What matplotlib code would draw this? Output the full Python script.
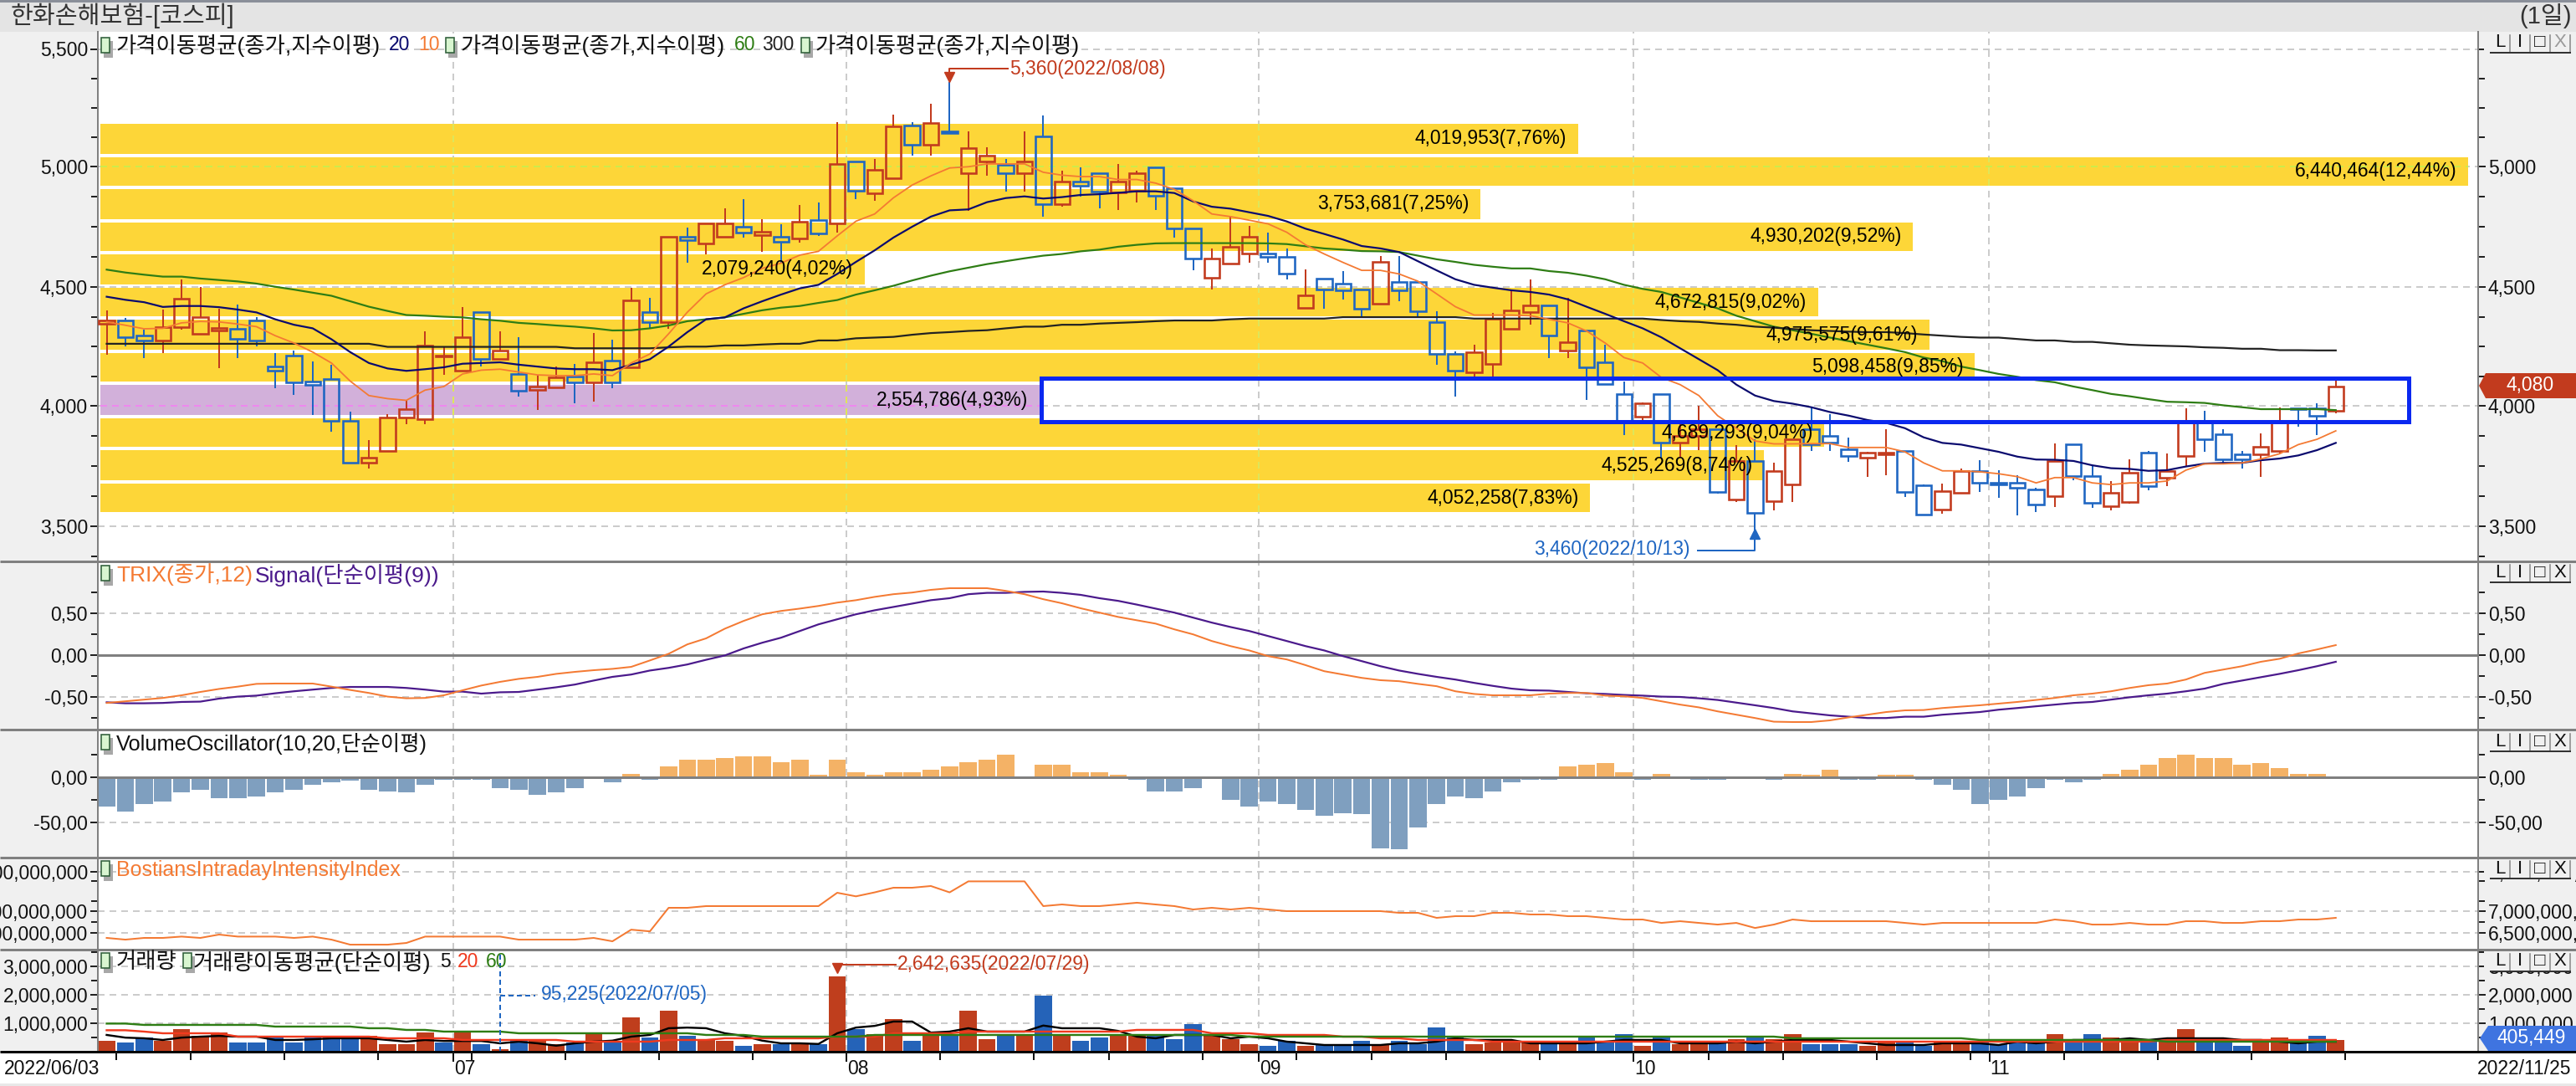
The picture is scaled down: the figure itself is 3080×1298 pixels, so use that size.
import numpy as np
import matplotlib
matplotlib.use('Agg')
import matplotlib.pyplot as plt
from matplotlib.patches import Rectangle, Polygon
from matplotlib.ticker import FixedLocator, FixedFormatter, NullFormatter
import logging
logging.getLogger('matplotlib.font_manager').setLevel(logging.ERROR)

plt.rcParams['font.family'] = ['Liberation Sans', 'Noto Sans CJK KR', 'DejaVu Sans']
plt.rcParams['axes.unicode_minus'] = False

# ---------- data ----------
open_ = [4345,4360,4297,4274,4330,4303,4316,4324,4360,4164,4211,4101,4113,3937,3764,3812,3950,3943,4209,4147,
         4396,4196,4134,4067,4076,4125,4098,4189,4161,4394,4352,4709,4681,4708,4750,4715,4709,4702,4779,4764,
         5021,4888,4951,5173,5093,5151,4971,5020,5008,4971,5128,4843,4937,4972,4894,4898,4995,4911,4744,4539,
         4596,4640,4640,4625,4413,4535,4515,4489,4428,4521,4521,4353,4217,4141,4176,4323,4394,4424,4232,4318,
         4183,4049,3956,4049,3846,3876,3904,3610,3771,3604,3673,3902,3876,3819,3783,3798,3812,3669,3568,3639,
         3729,3682,3681,3652,3624,3842,3708,3583,3602,3806,3700,3791,3930,3881,3798,3798,3812,3990,3991,3979]
high  = [4400,4370,4320,4405,4532,4501,4407,4425,4375,4222,4234,4188,4173,3974,3857,3967,4023,4313,4245,4417,
         4396,4313,4290,4127,4165,4177,4306,4277,4498,4453,4709,4745,4765,4828,4863,4780,4759,4842,4851,5187,
         5021,5032,5222,5187,5267,5360,5151,5083,5032,5151,5218,4983,4997,4972,5011,4983,4995,4911,4744,4661,
         4792,4753,4726,4661,4574,4535,4565,4489,4628,4628,4521,4397,4229,4257,4391,4491,4532,4424,4453,4318,
         4257,4101,4015,4049,3929,4000,3904,3838,3861,3764,3861,3997,3967,3869,3808,3904,3813,3673,3676,3741,
         3774,3731,3711,3658,3843,3842,3749,3688,3779,3812,3801,3989,3980,3904,3812,3884,3994,3989,4009,4105]
low   = [4215,4250,4200,4222,4321,4303,4159,4202,4250,4073,4047,3962,3892,3764,3741,3812,3922,3922,4131,4147,
         4165,4196,4040,3982,4076,4012,4017,4073,4161,4323,4323,4602,4637,4708,4706,4645,4600,4685,4712,4727,
         4863,4859,4951,5048,5048,5142,4816,4961,4897,4897,4790,4834,4875,4826,4820,4849,4820,4706,4568,4491,
         4596,4602,4602,4532,4407,4407,4447,4372,4428,4440,4372,4173,4040,4104,4119,4323,4341,4200,4200,4026,
         4092,3880,3937,3786,3783,3816,3635,3602,3460,3565,3600,3812,3812,3768,3706,3711,3620,3545,3553,3639,
         3642,3617,3545,3560,3580,3691,3575,3566,3594,3651,3666,3748,3809,3759,3741,3706,3801,3914,3880,3970]
close = [4360,4287,4274,4332,4451,4373,4326,4281,4274,4147,4098,4089,3937,3764,3785,3952,3986,4254,4212,4289,
         4196,4232,4063,4080,4119,4098,4183,4098,4443,4353,4709,4694,4765,4765,4727,4730,4687,4771,4723,5009,
         4900,4986,5171,5093,5185,5142,5080,5045,4971,5020,4843,4937,4921,4895,4937,4972,4878,4742,4617,4619,
         4667,4709,4625,4556,4465,4491,4486,4408,4605,4486,4399,4217,4147,4226,4367,4400,4422,4295,4269,4161,
         4092,3929,4009,3846,3876,3902,3643,3771,3556,3729,3861,3839,3846,3791,3806,3807,3643,3548,3646,3729,
         3679,3673,3658,3590,3771,3708,3596,3639,3721,3666,3729,3929,3861,3777,3777,3831,3929,3985,3958,4080]

ma20 = [4459,4446,4436,4416,4420,4420,4415,4405,4393,4364,4341,4326,4280,4226,4180,4157,4147,4154,4162,4177,
        4180,4183,4173,4165,4157,4154,4154,4150,4173,4196,4249,4310,4364,4372,4410,4440,4468,4494,4509,4554,
        4604,4652,4705,4750,4792,4818,4822,4852,4869,4876,4867,4873,4882,4885,4891,4897,4897,4890,4855,4833,
        4825,4810,4795,4772,4742,4720,4697,4670,4660,4645,4607,4569,4532,4509,4497,4486,4479,4468,4448,4417,
        4387,4356,4326,4288,4242,4196,4150,4089,4043,4020,4009,3994,3974,3959,3941,3929,3907,3869,3846,3839,
        3824,3809,3789,3777,3776,3771,3753,3741,3738,3730,3733,3748,3760,3763,3763,3774,3781,3794,3816,3846]
ma10 = [4353,4339,4324,4326,4349,4355,4353,4344,4333,4295,4264,4226,4180,4104,4043,4030,4023,4066,4081,4134,
        4150,4154,4142,4130,4127,4127,4134,4127,4180,4218,4303,4394,4471,4509,4539,4577,4599,4632,4648,4712,
        4773,4803,4870,4923,4961,4994,4999,5011,5011,5011,4976,4964,4958,4958,4946,4946,4931,4905,4858,4803,
        4792,4777,4762,4727,4675,4637,4602,4569,4569,4554,4524,4471,4417,4382,4382,4382,4379,4364,4349,4315,
        4264,4203,4180,4119,4089,4043,3959,3907,3854,3842,3842,3843,3843,3827,3827,3827,3809,3763,3730,3730,
        3726,3718,3706,3680,3702,3702,3680,3673,3680,3680,3688,3733,3759,3759,3763,3779,3801,3839,3861,3896]
ma60 = [4572,4560,4551,4543,4543,4535,4529,4523,4514,4501,4489,4476,4463,4440,4417,4399,4382,4379,4375,4372,
        4364,4358,4349,4344,4338,4333,4326,4317,4318,4326,4338,4356,4364,4372,4387,4402,4413,4420,4433,4445,
        4468,4486,4505,4527,4547,4565,4580,4595,4607,4619,4630,4637,4648,4655,4667,4675,4681,4682,4682,4682,
        4682,4682,4681,4678,4669,4660,4655,4649,4648,4645,4630,4615,4604,4592,4584,4577,4577,4566,4559,4547,
        4532,4509,4492,4479,4456,4433,4410,4379,4356,4333,4318,4303,4287,4272,4257,4242,4226,4203,4188,4165,
        4150,4134,4122,4108,4099,4081,4066,4050,4040,4028,4017,4015,4012,4002,3994,3986,3986,3986,3986,3982]
ma300 = [4261,4261,4261,4261,4261,4261,4261,4261,4261,4261,4261,4261,4261,4261,4261,4248,4248,4248,4248,4248,
         4248,4248,4248,4248,4248,4242,4242,4242,4242,4242,4246,4249,4249,4254,4254,4258,4261,4261,4275,4275,
         4284,4287,4290,4299,4306,4310,4315,4318,4326,4333,4333,4341,4341,4346,4349,4352,4356,4359,4359,4359,
         4364,4367,4367,4367,4367,4367,4373,4373,4373,4373,4373,4373,4373,4367,4367,4367,4367,4367,4367,4367,
         4367,4367,4367,4361,4356,4353,4346,4341,4333,4329,4323,4318,4315,4312,4310,4310,4306,4300,4295,4290,
         4287,4287,4281,4275,4275,4269,4269,4263,4257,4254,4252,4250,4246,4244,4240,4240,4234,4234,4233,4233]

band_top = [5182,5039,4907,4768,4636,4497,4362,4222,4087,3947,3815,3676]
band_bot = [5054,4920,4782,4649,4511,4376,4235,4102,3961,3830,3690,3559]
band_vol = [4019953,6440464,3753681,4930202,2079240,4672815,4975575,5098458,2554786,4689293,4525269,4052258]
band_pct = ['7,76%','12,44%','7,25%','9,52%','4,02%','9,02%','9,61%','9,85%','4,93%','9,04%','8,74%','7,83%']

trix = [-.574,-.554,-.534,-.514,-.482,-.442,-.406,-.378,-.345,-.341,-.341,-.341,-.378,-.418,-.454,-.498,-.518,-.514,-.482,-.422,
        -.365,-.321,-.285,-.261,-.225,-.201,-.181,-.165,-.141,-.064,.016,.129,.201,.317,.41,.49,.53,.558,.59,.63,.659,
        .699,.731,.751,.783,.803,.803,.803,.771,.731,.671,.622,.562,.51,.458,.418,.378,.309,.249,.169,.108,.056,-.012,-.052,-.12,-.193,
        -.233,-.273,-.301,-.313,-.345,-.373,-.434,-.466,-.482,-.482,-.482,-.462,-.454,-.454,-.486,-.494,-.514,-.554,-.594,-.627,-.675,
        -.715,-.755,-.799,-.803,-.803,-.783,-.747,-.715,-.683,-.663,-.659,-.635,-.618,-.602,-.582,-.562,-.538,-.514,-.482,-.462,-.434,
        -.394,-.361,-.341,-.293,-.213,-.173,-.133,-.08,-.044,.02,.068,.12]
signal = [-.566,-.578,-.578,-.574,-.562,-.558,-.522,-.498,-.486,-.458,-.434,-.414,-.394,-.382,-.382,-.382,-.394,-.414,-.438,-.438,
          -.462,-.446,-.442,-.414,-.386,-.353,-.305,-.261,-.233,-.185,-.153,-.112,-.056,-.004,.08,.149,.209,.289,.369,.43,.49,
          .538,.578,.618,.659,.683,.731,.747,.747,.759,.763,.747,.723,.683,.651,.606,.558,.51,.45,.39,.337,.289,.229,.169,.108,.056,
          -.012,-.072,-.133,-.185,-.225,-.261,-.293,-.333,-.369,-.402,-.422,-.426,-.442,-.458,-.466,-.478,-.486,-.498,-.502,-.518,-.538,
          -.57,-.602,-.635,-.675,-.699,-.723,-.739,-.755,-.755,-.739,-.739,-.715,-.699,-.683,-.655,-.635,-.614,-.594,-.574,-.562,-.534,
          -.506,-.482,-.462,-.434,-.402,-.345,-.305,-.265,-.225,-.181,-.133,-.08]
vol_osc = [-32,-38,-30,-27,-17,-14,-23,-23,-21,-17,-14,-8,-6,-4,-14,-16,-17,-8,-3,-3,-3,-12,-14,-19,-17,-12,0,-6,4,-3,
           12,19,19,21,23,23,17,19,3,19,6,3,6,6,8,12,17,19,25,0,14,14,6,6,3,-3,-16,-16,-12,0,
           -25,-32,-27,-30,-36,-43,-40,-41,-79,-80,-56,-30,-21,-23,-16,-6,-3,-3,12,14,16,6,-3,4,0,-3,-3,0,0,-3,
           4,3,8,-3,-3,3,3,-3,-8,-14,-30,-25,-21,-12,-3,-6,-3,4,8,14,21,25,21,21,14,16,10,4,4,0]
bii = [6390,6353,6390,6390,6419,6390,6463,6419,6419,6419,6390,6419,6353,6245,6245,6245,6281,6419,6419,6419,
       6419,6419,6353,6353,6353,6353,6390,6317,6572,6534,7080,7080,7121,7121,7121,7121,7121,7121,7121,7452,7362,
       7462,7581,7581,7625,7462,7747,7747,7747,7747,7121,7161,7121,7121,7161,7203,7161,7121,7040,7080,7040,7080,7040,
       7000,7000,7000,7000,7000,7000,6960,6960,6842,6881,6881,6960,6960,6921,6921,6881,6881,6842,6803,6803,6725,6764,6725,6687,
       6725,6610,6687,6803,6764,6764,6764,6764,6764,6725,6687,6725,6725,6725,6725,6725,6725,6803,6764,6687,6687,6725,6687,
       6687,6764,6764,6725,6725,6764,6764,6803,6803,6842]
volume = [376,318,494,376,788,553,671,318,318,494,318,494,494,494,553,259,259,671,318,671,259,95.225,376,376,259,318,612,376,1200,494,
          1435,553,435,376,200,259,259,259,259,2642.635,788,612,1141,376,612,612,1435,435,553,553,1965,612,376,494,612,553,612,435,965,553,
          435,259,200,376,200,259,259,376,259,376,259,847,553,259,318,376,318,318,318,494,318,612,200,494,259,259,318,435,494,435,
          612,259,259,259,200,318,318,200,318,318,376,259,376,318,612,376,612,494,435,376,376,788,376,435,200,318,494,318,553,405.449]
vol_ma5 = [588,494,471,412,494,529,553,529,529,412,412,435,471,471,471,412,353,412,376,376,376,294,353,294,212,294,353,388,529,588,824,847,824,647,553,388,294,294,271,647,847,
           906,1059,1059,671,706,824,706,706,706,918,824,824,824,729,529,471,588,588,588,471,529,471,353,294,235,235,235,235,294,294,353,471,412,412,412,294,294,294,294,353,412,412,412,294,294,294,
           353,294,353,412,412,412,353,294,235,235,235,294,294,294,235,353,294,353,412,412,412,471,412,471,471,471,471,412,412,353,294,353,353]
vol_ma20 = ([753,753,706]+[647]*4+[529]*8+[471]*4+[412]*6+[353]*5+[412]*3+[471]*6+[529]*3
            +[647]*4+[706]*9+[765]*4+[647]*3+[588]*4+[529]*2+[471]*2+[412]*4+[353]*36+[412]*10)
vol_ma60 = ([988]*2+[941]*7+[882]*5+[824]*2+[765]*2+[706]*4+[647]*10+[588]*3+[529]*6
            +[588]*20+[529]*29+[471]*10+[412]*10+[353]*10)

month_labels = ['07','08','09','10','11']
month_pos = [18.5,39.5,61.5,81.5,100.5]
week_pos = [.5,4.5,9.5,14.5,19.5,24.5,29.5,34.5,44.5,49.5,53.5,58.5,63.5,67.5,71.5,76.5,85.5,89.5,94.5,99.5,104.5,109.5,114.5,119.5]

# ---------- layout ----------
W, H = 3080, 1298
RED, BLUE = '#C23B1E', '#1F66C2'
ORANGE = '#F47A33'
GRID = '#CCCCCC'
LEFT, RIGHT = 117, 2963
LAT = 16.5   # size of latin / digit labels
fig = plt.figure(figsize=(W/100, H/100), dpi=100, facecolor='#F0F0F0')
px = 72/100

def make_ax(top, bottom, z=1):
    ax = fig.add_axes([LEFT/W, 1-bottom/H, (RIGHT-LEFT)/W, (bottom-top)/H], zorder=z)
    ax.set_xlim(-0.47, 126.6)
    ax.set_facecolor('white')
    for s in ['top', 'bottom']:
        ax.spines[s].set_visible(False)
    for s in ['left', 'right']:
        ax.spines[s].set_color('#808080')
        ax.spines[s].set_linewidth(2*px)
    ax.tick_params(axis='y', which='both', left=True, right=True, labelleft=True, labelright=True,
                   direction='out', color='#222222', width=2*px, labelsize=LAT, pad=2, labelcolor='#111111')
    ax.tick_params(axis='y', which='major', length=7*px*1.3)
    ax.tick_params(axis='y', which='minor', length=6*px*1.3)
    ax.set_xticks([])
    for m in month_pos:
        ax.axvline(m, color=GRID, lw=2*px, dashes=(4, 3), zorder=0.5)
    return ax

def hgrid(ax, ticks, z=0.5):
    for t in ticks:
        ax.axhline(t, color=GRID, lw=2*px, dashes=(4, 3), zorder=z)

# background
bg = fig.add_axes([0, 0, 1, 1], zorder=-5)
bg.set_xlim(0, W); bg.set_ylim(H, 0); bg.axis('off')
bg.add_patch(Rectangle((0, 0), W, 38, fc='#E4E4E4', ec='none'))
bg.add_patch(Rectangle((0, 1258), W, 38, fc='white', ec='none'))
bg.add_patch(Rectangle((0, 0), W, 2.5, fc='#8A8F99', ec='none'))

# ---------- price panel ----------
ax = make_ax(38, 670)
# the reference's price scale is very slightly uneven between its gridlines
scale_price = np.array([3356, 3500, 4000, 4500, 5000, 5500, 5572.0])
scale_pos = np.array([0.0, 41, 185, 327, 471, 611.5, 632])
ax.set_yscale('function', functions=(lambda v: np.interp(v, scale_price, scale_pos),
                                     lambda p: np.interp(p, scale_pos, scale_price)))
ax.set_ylim(3356, 5572)
major = [3500, 4000, 4500, 5000, 5500]
ax.yaxis.set_major_locator(FixedLocator(major))
ax.yaxis.set_major_formatter(FixedFormatter([f'{v:,}' for v in major]))
ax.yaxis.set_minor_locator(FixedLocator(np.arange(3375, 5500, 125)))
ax.yaxis.set_minor_formatter(NullFormatter())
hgrid(ax, major)

bar_scale = 126.4/max(band_vol)
bar_x0 = -0.33
for i, (t, b, v, p) in enumerate(zip(band_top, band_bot, band_vol, band_pct)):
    col = '#D2B0DA' if i == 8 else '#FDD638'
    w = v*bar_scale
    ax.add_patch(Rectangle((bar_x0, b), w, t-b, fc=col, ec='none', zorder=1))
    ax.text(bar_x0+w-0.62, (t+b)/2, f'{v:,}({p})', ha='right', va='center', fontsize=LAT, color='black', zorder=7)
    for m in month_pos:
        if m < bar_x0+w:
            ax.plot([m, m], [b, t], color='#DDE65A', lw=2*px, dashes=(4, 3), zorder=1.2)
ax.plot([bar_x0, bar_x0+band_vol[1]*bar_scale], [5000, 5000], color='#CDEB4A', lw=2*px, dashes=(4, 3), zorder=1.2)
ax.plot([bar_x0, bar_x0+band_vol[8]*bar_scale], [4000, 4000], color='#EE88EE', lw=2*px, dashes=(4, 3), zorder=1.2)

# white box with blue outline
bx0, bx1, by0, by1 = 49.9, 122.9, 3934, 4115
ax.add_patch(Rectangle((bx0, by0), bx1-bx0, by1-by0, fc='white', ec='none', zorder=1.5))
ax.plot([bx0, bx1], [4000, 4000], color=GRID, lw=2*px, dashes=(4, 3), zorder=1.8)
for m in month_pos[2:]:
    ax.plot([m, m], [by0, by1], color=GRID, lw=2*px, dashes=(4, 3), zorder=1.8)
ax.add_patch(Rectangle((bx0, by0), bx1-bx0, by1-by0, fc='none', ec='#0A28F0', lw=5*px, zorder=6))

# candles
for i, (o, h, l, c) in enumerate(zip(open_, high, low, close)):
    col = RED if c >= o else BLUE
    top, bot = max(o, c), min(o, c)
    ax.plot([i, i], [top, h], color=col, lw=2*px, zorder=4, solid_capstyle='butt')
    ax.plot([i, i], [l, bot], color=col, lw=2*px, zorder=4, solid_capstyle='butt')
    ax.add_patch(Rectangle((i-0.41, bot), 0.82, top-bot, fc='none', ec=col, lw=2.6*px, zorder=4))

xs = np.arange(120)
ax.plot(xs, ma60, color='#2E7D14', lw=2.2*px, zorder=5)
ax.plot(xs, ma300, color='#222222', lw=2.2*px, zorder=5)
ax.plot(xs, ma20, color='#0A0A6E', lw=2.2*px, zorder=5)
ax.plot(xs, ma10, color=ORANGE, lw=1.8*px, zorder=5)
ax.plot([45], [max(high)+22], marker='v', ms=9, color=RED, zorder=6)
ax.plot([88], [min(low)+8], marker='^', ms=9, color=BLUE, zorder=6)

# ---------- TRIX ----------
ax2 = make_ax(671, 872)
k2 = 99.6
ax2.set_ylim(-(872-783)/k2, (783-671)/k2)
m2 = [-.5, 0, .5]
ax2.yaxis.set_major_locator(FixedLocator(m2))
ax2.yaxis.set_major_formatter(FixedFormatter(['-0,50', '0,00', '0,50']))
ax2.yaxis.set_minor_locator(FixedLocator([-.75, -.25, .25, .75]))
ax2.yaxis.set_minor_formatter(NullFormatter())
hgrid(ax2, [-.5, .5])
ax2.axhline(0, color='#808080', lw=3*px, zorder=1)
ax2.plot(np.arange(len(signal)), signal, color='#4B1A8C', lw=2.2*px, zorder=3)
ax2.plot(np.arange(len(trix)), trix, color=ORANGE, lw=2*px, zorder=3)

# ---------- Volume oscillator ----------
ax3 = make_ax(872, 1024.5)
k3 = 1.08
ax3.set_ylim(-(1024.5-929)/k3, (929-872)/k3)
ax3.yaxis.set_major_locator(FixedLocator([-50, 0]))
ax3.yaxis.set_major_formatter(FixedFormatter(['-50,00', '0,00']))
ax3.yaxis.set_minor_locator(FixedLocator([-25, 25]))
ax3.yaxis.set_minor_formatter(NullFormatter())
hgrid(ax3, [-50])
vo = np.array(vol_osc, dtype=float)
ax3.bar(np.arange(len(vo)), vo, width=0.92, color=['#F4B266' if v > 0 else '#7F9FBF' for v in vo], zorder=2)
ax3.axhline(0, color='#808080', lw=3*px, zorder=3)

# ---------- Bostian ----------
ax4 = make_ax(1024.5, 1134.5)
ax4.set_yscale('log')
ax4.set_ylim(7e9*np.exp(-(1134.5-1089)/351), 7e9*np.exp((1089-1024.5)/351))
m4 = [6.5e9, 7e9, 8e9]
ax4.yaxis.set_major_locator(FixedLocator(m4))
ax4.yaxis.set_major_formatter(FixedFormatter(['6,500,000,000', '7,000,000,000', '8,000,000,000']))
ax4.yaxis.set_minor_locator(FixedLocator([6.75e9, 7.25e9, 7.75e9]))
ax4.yaxis.set_minor_formatter(NullFormatter())
hgrid(ax4, m4)
ax4.plot(np.arange(len(bii)), np.array(bii)*1e6, color=ORANGE, lw=2*px, zorder=3)

# ---------- Volume ----------
ax5 = make_ax(1134.5, 1257)
ax5.set_ylim(0, (1257-1134.5)/34.04*1e6)
m5 = [1e6, 2e6, 3e6]
ax5.yaxis.set_major_locator(FixedLocator(m5))
ax5.yaxis.set_major_formatter(FixedFormatter(['1,000,000', '2,000,000', '3,000,000']))
ax5.yaxis.set_minor_locator(FixedLocator([.5e6, 1.5e6, 2.5e6, 3.5e6]))
ax5.yaxis.set_minor_formatter(NullFormatter())
hgrid(ax5, m5)
up = [c >= o for o, c in zip(open_, close)]
up[18] = False
ax5.bar(np.arange(120), np.array(volume)*1000, width=0.92, color=['#BF3E1D' if u else '#2563B8' for u in up], zorder=2)
ax5.plot(np.arange(len(vol_ma60)), np.array(vol_ma60)*1000, color='#2E7D14', lw=2.4*px, zorder=4)
ax5.plot(np.arange(len(vol_ma20)), np.array(vol_ma20)*1000, color='#F03A1E', lw=2.4*px, zorder=3.5)
ax5.plot(np.arange(len(vol_ma5)), np.array(vol_ma5)*1000, color='black', lw=2.4*px, zorder=3)
ax5.plot([21, 21], [0, 3.6e6], color=BLUE, lw=2*px, dashes=(3, 2), zorder=4)
ax5.plot([39], [max(volume)*1000+300000], marker='v', ms=9, color=RED, zorder=5)
ax5.spines['bottom'].set_visible(False)

# ---------- overlay chrome ----------
ov = fig.add_axes([0, 0, 1, 1], zorder=10)
ov.set_xlim(0, W); ov.set_ylim(H, 0); ov.axis('off'); ov.patch.set_alpha(0)

def T(x, y, s, color='#111111', ha='left', fs=LAT, **kw):
    ov.text(x, y, s, color=color, ha=ha, va='center', fontsize=fs, **kw)

def icon(x, y):
    ov.add_patch(Rectangle((x+3, y+4), 11, 20, fc='#A8A8A8', ec='none'))
    ov.add_patch(Rectangle((x, y), 10, 18, fc='#D8F5D0', ec='#2F5F3A', lw=1.6*px))

for y in [670.5, 872, 1024.5, 1134.5]:
    ov.plot([0, W], [y, y], color='#808080', lw=3*px, solid_capstyle='butt')
ov.plot([0, W], [1257, 1257], color='black', lw=3*px, solid_capstyle='butt')

T(12, 19, '한화손해보험-[코스피]', color='#333333', fs=21)
T(3075, 19, '(1일)', color='#333333', ha='right', fs=21)

# legend texts
LEG = '가격이동평균(종가,지수이평)'
icon(121, 45); T(139, 54, LEG, fs=19)
T(465, 54, '20', color='#0A0A6E'); T(500, 54, '10', color=ORANGE)
icon(533, 45); T(551, 54, LEG, fs=19)
T(878, 54, '60', color='#2E7D14'); T(911, 54, '300', color='#222222')
icon(958, 45); T(975, 54, LEG, fs=19)
icon(121, 676); T(139, 687, 'TRIX(종가,12)', color=ORANGE, fs=19); T(305, 687, 'Signal(단순이평(9))', color='#4B1A8C', fs=19)
icon(121, 878); T(139, 889, 'VolumeOscillator(10,20,단순이평)', fs=18.3)
icon(121, 1029); T(139, 1040, 'BostiansIntradayIntensityIndex', color=ORANGE, fs=18)
icon(121, 1139); T(139, 1150, '거래량', fs=19)
icon(219, 1139); T(231, 1150, '거래량이동평균(단순이평)', fs=19)
T(526, 1150, '5'); T(547, 1150, '20', color='#F03A1E'); T(581, 1150, '60', color='#2E7D14')

# marker annotations
ov.plot([1135, 1135, 1205], [91, 82, 82], color=RED, lw=2*px)
T(1207, 82, '5,360(2022/08/08)', color=RED)
ov.plot([2030, 2098, 2098], [658, 658, 644], color=BLUE, lw=2*px)
T(1834, 657, '3,460(2022/10/13)', color=BLUE)
ov.plot([1001, 1001, 1071], [1159, 1152.5, 1152.5], color=RED, lw=2*px)
T(1073, 1152.5, '2,642,635(2022/07/29)', color=RED)
ov.plot([598, 640], [1190, 1190], color=BLUE, lw=2*px, dashes=(3, 2))
T(647, 1188.5, '95,225(2022/07/05)', color=BLUE)

# buttons
def buttons(y, xcol='#111111', h=25):
    ov.add_patch(Rectangle((2970, y-2), 110, h, fc='#F0F0F0', ec='none'))
    for i, ch in enumerate(['L', 'I', '□', 'X']):
        x = 2978+i*24
        T(x+11, y+10, ch, ha='center', fs=16, color=xcol if ch == 'X' else '#111111')
        ov.plot([x+23, x+23], [y+1, y+21], color='#8A8A8A', lw=1.6*px)
    ov.plot([2978, 3073], [y+22, y+22], color='#333333', lw=2*px)

buttons(41, '#9A9A9A', h=36); buttons(674); buttons(876); buttons(1028); buttons(1139)

# value tags
ov.add_patch(Polygon([(2964, 461), (2972, 446), (3080, 446), (3080, 476), (2972, 476)], fc='#C23B1E', ec='none'))
T(3025, 461, '4,080', color='white', ha='center')
ov.add_patch(Polygon([(2965, 1241), (2975, 1226), (3080, 1226), (3080, 1256), (2975, 1256)], fc='#3F74E0', ec='none'))
T(3027, 1241, '405,449', color='white', ha='center')

# date axis
for w in week_pos:
    xp = 127.5+22.4*w
    ov.plot([xp, xp], [1258, 1266], color='#111111', lw=2*px)
for m, lab in zip(month_pos, month_labels):
    xp = 127.5+22.4*m
    ov.plot([xp, xp], [1258, 1268], color='#111111', lw=2*px)
    T(xp+1, 1277, lab)
T(5, 1277, '2022/06/03')
T(3074, 1277, '2022/11/25', ha='right')
ov.add_patch(Rectangle((0, 1295), W, 3, fc='#E8E8E8', ec='none'))

fig.savefig('out.png', dpi=100, facecolor=fig.get_facecolor())
